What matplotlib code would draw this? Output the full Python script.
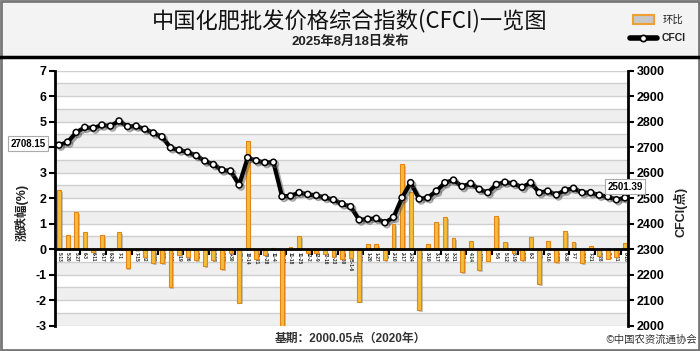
import numpy as np
import matplotlib
matplotlib.use("Agg")
import matplotlib.pyplot as plt
from matplotlib.patches import Rectangle
from matplotlib.lines import Line2D
import matplotlib.patheffects as pe

plt.rcParams['font.family'] = ['Liberation Sans', 'Noto Sans CJK SC', 'DejaVu Sans']

dates = ["5-13", "5-20", "5-27", "6-3", "6-11", "6-17", "6-24", "7-1", "7-8", "7-15",
         "7-22", "7-29", "8-5", "8-12", "8-19", "8-26", "9-2", "9-9", "9-18", "9-23",
         "9-30", "10-8", "10-14", "10-21", "10-28", "11-4", "11-11", "11-18", "11-25", "12-2",
         "12-9", "12-16", "12-23", "12-30", "2025-1-6", "1-13", "1-20", "1-27", "2-5", "2-10",
         "2-17", "2-24", "3-3", "3-10", "3-17", "3-24", "3-31", "4-7", "4-14", "4-21",
         "4-28", "5-6", "5-12", "5-19", "5-26", "6-3", "6-9", "6-16", "6-23", "6-30",
         "7-7", "7-14", "7-21", "7-28", "8-4", "8-11", "8-18"]

cfci = [2708.15, 2720, 2758, 2778, 2775, 2787, 2783, 2803, 2781, 2783,
        2771, 2756, 2741, 2698, 2689, 2681, 2667, 2646, 2632, 2611,
        2607, 2552, 2659, 2647, 2640, 2641, 2507, 2509, 2522, 2515,
        2511, 2503, 2494, 2478, 2467, 2415, 2418, 2421, 2404, 2425,
        2502, 2561, 2497, 2502, 2528, 2561, 2571, 2546, 2558, 2535,
        2522, 2554, 2563, 2558, 2543, 2561, 2522, 2528, 2513, 2532,
        2539, 2522, 2522, 2512, 2506, 2494, 2501.39]

mom = [2.32, 0.56, 1.45, 0.66, -0.10, 0.56, -0.04, 0.66, -0.75, -0.03,
       -0.32, -0.55, -0.55, -1.50, -0.24, -0.30, -0.44, -0.67, -0.43, -0.77,
       -0.16, -2.10, 4.24, -0.38, -0.23, 0.06, -5.07, 0.10, 0.52, -0.14,
       -0.14, -0.20, -0.29, -0.40, -0.36, -2.06, 0.19, 0.19, -0.42, 0.99,
       3.33, 2.24, -2.38, 0.22, 1.05, 1.26, 0.44, -0.90, 0.34, -0.82,
       -0.45, 1.30, 0.29, -0.14, -0.41, 0.48, -1.38, 0.31, -0.50, 0.72,
       0.29, -0.56, 0.13, -0.27, -0.37, -0.30, 0.26]

left_ticks = [-3, -2, -1, 0, 1, 2, 3, 4, 5, 6, 7]
left_labels = ["-3", "-2", "-1", "0", "1", "2", "3", "", "5", "6", "7"]
right_ticks = [2000, 2100, 2200, 2300, 2400, 2500, 2600, 2700, 2800, 2900, 3000]

W, H = 700, 351
fig = plt.figure(figsize=(W / 100, H / 100), dpi=100)
fig.patch.set_facecolor('white')

def fx(px):
    return px / W

def fy(py):
    return 1 - py / H

# header band
fig.add_artist(Rectangle((0, fy(57)), 1, 57 / H, transform=fig.transFigure,
                         facecolor='#f3f3f3', edgecolor='none', zorder=0))
fig.add_artist(Line2D([0, 1], [fy(56.5), fy(56.5)], transform=fig.transFigure,
                      color='black', lw=2.5))
fig.add_artist(Rectangle((0.001, 0.002), 0.998, 0.996, transform=fig.transFigure,
                         fill=False, edgecolor='#777777', lw=2))

fig.text(0.5, fy(21), "中国化肥批发价格综合指数(CFCI)一览图", ha='center', va='center',
         fontsize=16, family=['Noto Sans CJK SC', 'DejaVu Sans'], fontweight='medium',
         color='#111111')
fig.text(0.5, fy(42), "2025年8月18日发布", ha='center', va='center',
         fontsize=9.5, fontweight='bold', family=['Liberation Sans', 'Noto Sans CJK SC'],
         color='#222222')

# legend
fig.add_artist(Rectangle((fx(633), fy(24)), fx(21), 9 / H, transform=fig.transFigure,
                         facecolor='#c8c8c8', edgecolor='#f0a030', lw=1.5))
fig.text(fx(663), fy(19.5), "环比", ha='left', va='center', fontsize=7.5,
         family=['Noto Sans CJK SC'], color='#222222')
fig.add_artist(Line2D([fx(630), fx(657)], [fy(38), fy(38)], transform=fig.transFigure,
                      color='black', lw=4, solid_capstyle='round'))
fig.add_artist(Line2D([fx(643)], [fy(38)], transform=fig.transFigure, marker='o',
                      markersize=4.5, markerfacecolor='white', markeredgecolor='black',
                      markeredgewidth=1.2, lw=0))
fig.text(fx(662), fy(38), "CFCI", ha='left', va='center', fontsize=7.5,
         fontweight='bold', color='#222222')

# main axes
ax = fig.add_axes([fx(55), fy(325.7), fx(628 - 55), (325.7 - 70.7) / H])
n = len(cfci)
x = np.arange(n)
ax.set_xlim(-0.47, n - 1 + 0.35)
ax.set_ylim(-3, 7)
ax.set_facecolor('white')

for k in range(-3, 7):
    ax.axhspan(k, k + 0.5, color='#efefef', zorder=0, lw=0)
for v in np.arange(-3, 7.01, 0.5):
    ax.axhline(v, color='#cfcfcf', lw=1, zorder=0.5)

bars = ax.bar(x, mom, width=0.45, color='#f3bd3a', edgecolor='#e3861a', lw=0.8, zorder=2)
for b in bars:
    b.set_path_effects([pe.SimplePatchShadow(offset=(1.2, -1.2), shadow_rgbFace='#888888',
                                             alpha=0.45), pe.Normal()])

ax.spines['top'].set_visible(False)
ax.spines['right'].set_visible(False)
ax.spines['left'].set_linewidth(2)
ax.spines['bottom'].set_position(('data', 0))
ax.spines['bottom'].set_linewidth(2)
ax.spines['bottom'].set_zorder(3)

ax.set_yticks(left_ticks)
ax.set_yticklabels(left_labels, fontsize=9, fontweight='bold')
ax.tick_params(axis='y', length=4, width=1.5, direction='out', pad=2)

ax.set_xticks(x)
ax.set_xticklabels(dates, rotation=-90, fontsize=3.4, color='#222222', fontweight='bold')
ax.tick_params(axis='x', which='major', length=0, pad=2)
ax.set_xticks(np.arange(2.5, n, 3), minor=True)
ax.tick_params(axis='x', which='minor', length=4, width=1.5, direction='out')

# right axes
ax2 = ax.twinx()
ax2.set_ylim(2000, 3000)
for s in ['top', 'left', 'bottom']:
    ax2.spines[s].set_visible(False)
ax2.spines['right'].set_linewidth(2)
ax2.set_yticks(right_ticks)
ax2.set_yticklabels([str(v) for v in right_ticks], fontsize=9, fontweight='bold')
ax2.tick_params(axis='y', length=4, width=1.5, direction='out', pad=2)

ax2.plot(x, cfci, color='black', lw=3, marker='o', markersize=4.3,
         markerfacecolor='white', markeredgecolor='black', markeredgewidth=1.1, zorder=5,
         path_effects=[pe.SimpleLineShadow(offset=(1.5, -1.5), shadow_color='#555555',
                                           alpha=0.5), pe.Normal()])

box = dict(boxstyle='square,pad=0.25', fc='white', ec='#aaaaaa', lw=0.8)
ax2.annotate(f"{cfci[0]:.2f}", xy=(x[0], cfci[0]), xytext=(-22, 1), textcoords='offset points',
             ha='center', va='center', fontsize=7, fontweight='bold', bbox=box,
             annotation_clip=False, zorder=6)
ax2.annotate(f"{cfci[-1]:.2f}", xy=(x[-1], cfci[-1]), xytext=(0, 8), textcoords='offset points',
             ha='center', va='center', fontsize=7, fontweight='bold', bbox=box,
             annotation_clip=False, zorder=6)

fig.text(fx(22), fy(212), "涨跌幅(%)", rotation=90, ha='center', va='center', fontsize=9,
         fontweight='bold', color='#222222')
fig.text(fx(681), fy(212), "CFCI(点)", rotation=90, ha='center', va='center', fontsize=9,
         fontweight='bold', color='#222222')

fig.text(0.5, fy(339), "基期：2000.05点（2020年）", ha='center', va='center', fontsize=8.5,
         fontweight='bold', color='#333333')
fig.text(fx(697), fy(340), "©中国农资流通协会", ha='right', va='center', fontsize=7.5,
         family=['Noto Sans CJK SC', 'DejaVu Sans'], color='#333333')

fig.savefig("out.png", dpi=100)
